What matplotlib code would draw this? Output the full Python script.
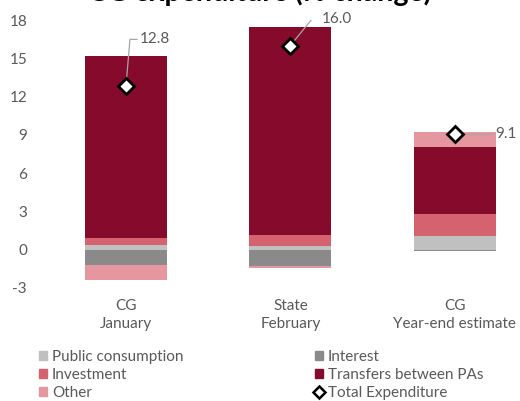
import matplotlib
matplotlib.use("Agg")
import matplotlib.pyplot as plt
import matplotlib.transforms as mtransforms
from matplotlib.patches import Patch
from matplotlib.lines import Line2D
import numpy as np

plt.rcParams['font.family'] = ['Lato', 'DejaVu Sans']
plt.rcParams['axes.unicode_minus'] = False

#------data------#
categories = ["CG\nJanuary", "State\nFebruary", "CG\nYear-end estimate"]
public_consumption = [0.37, 0.30, 1.10]
investment = [0.58, 0.88, 1.72]
transfers = [14.21, 16.29, 5.20]
interest = [-1.18, -1.25, -0.10]
other = [-1.17, -0.20, 1.18]
total = [12.8, 16.0, 9.1]
yticks = [-3, 0, 3, 6, 9, 12, 15, 18]

# stacking order and colours
series = [
    ("Public consumption", public_consumption, "#c0c0c0"),
    ("Interest", interest, "#8a8a8a"),
    ("Investment", investment, "#d4636f"),
    ("Transfers between PAs", transfers, "#850a2b"),
    ("Other", other, "#e5969e"),
]
txt = "#595959"

fig = plt.figure(figsize=(5.2, 4.01), dpi=100)
ax = fig.add_axes([0.0841, 0.282, 0.917, 0.668])

x = np.arange(len(categories))
pos_bottom = np.zeros(len(x))
neg_bottom = np.zeros(len(x))
for name, vals, col in series:
    vals = np.array(vals)
    bottom = np.where(vals >= 0, pos_bottom, neg_bottom)
    ax.bar(x, vals, 0.5, bottom=bottom, color=col, linewidth=0)
    pos_bottom += np.where(vals >= 0, vals, 0)
    neg_bottom += np.where(vals < 0, vals, 0)

ax.plot(x, total, "D", ms=8, mfc="white", mec="black", mew=2, zorder=5)

ax.set_xlim(-0.5, 2.4)
ax.set_ylim(-3, 18)

# value labels with leader lines (offsets in pixels)
leaders = [[(4, 47), (11, 47)], [(22, 27), (28, 27)], [(35, 0)]]
text_off = [(14, 47), (31, 27), (40, 0)]
for i in range(len(x)):
    pts = [(0, 0)] + leaders[i]
    xs, ys = [], []
    for dx, dy in pts:
        tr = mtransforms.offset_copy(ax.transData, fig=fig, x=dx, y=dy, units="dots")
        p = tr.transform((x[i], total[i]))
        xs.append(p[0]); ys.append(p[1])
    ax.add_line(Line2D(xs, ys, transform=mtransforms.IdentityTransform(),
                       color="#a6a6a6", lw=0.9, zorder=4))
    tr = mtransforms.offset_copy(ax.transData, fig=fig, x=text_off[i][0], y=text_off[i][1], units="dots")
    ax.text(x[i], total[i], "%.1f" % total[i], transform=tr, ha="left", va="center",
            fontsize=11, color=txt)

ax.set_yticks(yticks)
ax.set_xticks(x)
ax.set_xticklabels(categories, fontsize=11, color=txt, linespacing=1.4)
ax.tick_params(axis="y", length=0, pad=12, labelsize=11, labelcolor=txt)
ax.tick_params(axis="x", length=0, pad=8)
for s in ax.spines.values():
    s.set_visible(False)

fig.text(0.5, 0.9975, "CG expenditure (% change)", ha="center", va="baseline",
         fontsize=20.5, fontweight="bold", color="black")

handles = [Patch(color="#c0c0c0"), Patch(color="#d4636f"), Patch(color="#e5969e"),
           Patch(color="#8a8a8a"), Patch(color="#850a2b"),
           Line2D([], [], ls="none", marker="D", ms=6, mfc="white", mec="black", mew=1.8)]
labels = ["Public consumption", "Investment", "Other",
          "Interest", "Transfers between PAs", "Total Expenditure"]
leg = fig.legend(handles, labels, ncol=2, loc="upper left", bbox_to_anchor=(0.075, 0.128),
                 frameon=False, fontsize=11, handlelength=0.55, handleheight=0.55,
                 handletextpad=0.3, columnspacing=8.6, labelspacing=0.28,
                 borderaxespad=0, borderpad=0, labelcolor=txt)

fig.savefig("out.png", dpi=100)
